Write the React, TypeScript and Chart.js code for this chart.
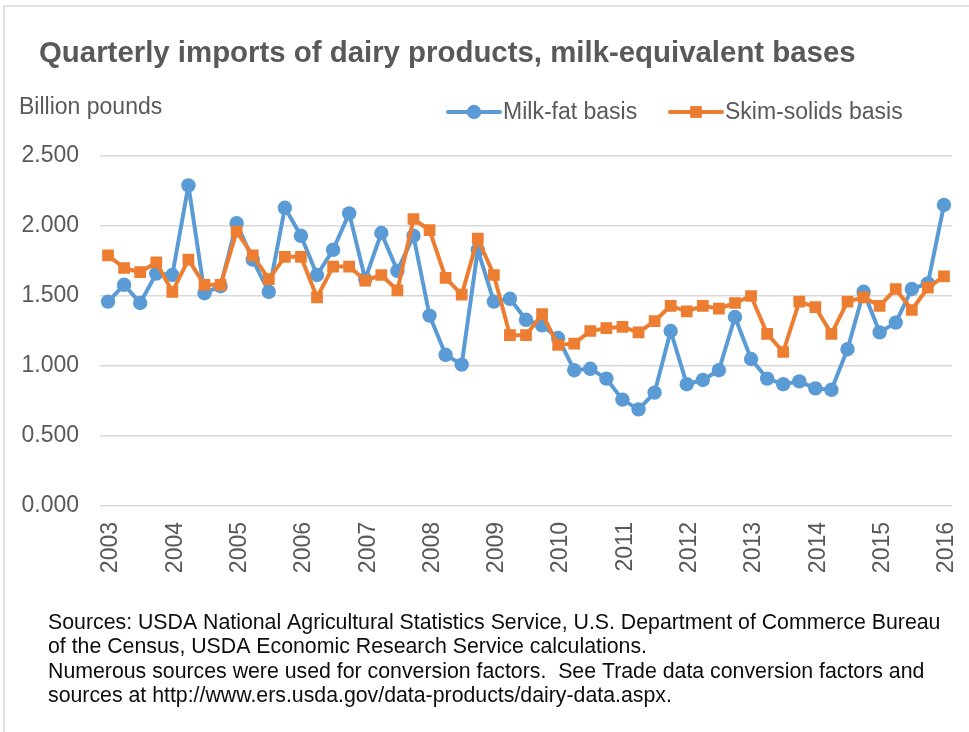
import React, { useEffect, useRef } from 'react';
import { Chart, registerables } from 'chart.js';

Chart.register(...registerables);

// Year tick labels along the bottom axis (one per Q1)
const years = [
  '2003', '2004', '2005', '2006', '2007', '2008', '2009',
  '2010', '2011', '2012', '2013', '2014', '2015', '2016',
];

// Quarterly imports, billion pounds, 2003 Q1 .. 2016 Q1
const milkFatBasis = [
  1.46, 1.58, 1.45, 1.66,
  1.65, 2.29, 1.52, 1.57,
  2.02, 1.76, 1.53, 2.13,
  1.93, 1.65, 1.83, 2.09,
  1.62, 1.95, 1.68, 1.93,
  1.36, 1.08, 1.01, 1.83,
  1.46, 1.48, 1.33, 1.29,
  1.20, 0.97, 0.98, 0.91,
  0.76, 0.69, 0.81, 1.25,
  0.87, 0.90, 0.97, 1.35,
  1.05, 0.91, 0.87, 0.89,
  0.84, 0.83, 1.12, 1.53,
  1.24, 1.31, 1.55, 1.59,
  2.15,
];

const skimSolidsBasis = [
  1.79, 1.70, 1.67, 1.74,
  1.53, 1.76, 1.58, 1.58,
  1.96, 1.79, 1.62, 1.78,
  1.78, 1.49, 1.71, 1.71,
  1.61, 1.65, 1.54, 2.05,
  1.97, 1.63, 1.51, 1.91,
  1.65, 1.22, 1.22, 1.37,
  1.15, 1.16, 1.25, 1.27,
  1.28, 1.24, 1.32, 1.43,
  1.39, 1.43, 1.41, 1.45,
  1.50, 1.23, 1.10, 1.46,
  1.42, 1.23, 1.46, 1.49,
  1.43, 1.55, 1.40, 1.56,
  1.64,
];

const seriesNames = ['Milk-fat basis', 'Skim-solids basis'];
const seriesColors = ['#5b9bd5', '#ed7d31'];

const titleText = 'Quarterly imports of dairy products, milk-equivalent bases';
const unitLabel = 'Billion pounds';
const sourceLines = [
  'Sources: USDA National Agricultural Statistics Service, U.S. Department of Commerce Bureau',
  'of the Census, USDA Economic Research Service calculations.',
  'Numerous sources were used for conversion factors.  See Trade data conversion factors and',
  'sources at http://www.ers.usda.gov/data-products/dairy-data.aspx.',
];

// One category per quarter: every year has Q1..Q4, the last year only Q1
const quarters: string[] = [];
years.forEach((y, i) => {
  const count = i === years.length - 1 ? 1 : 4;
  for (let q = 1; q <= count; q++) quarters.push(`${y} Q${q}`);
});

const FONT = '"Liberation Sans", Arial, Helvetica, sans-serif';
const GREY = '#595959';

function drawMarker(ctx: CanvasRenderingContext2D, kind: number, x: number, y: number) {
  if (kind === 0) {
    ctx.beginPath();
    ctx.arc(x, y, 7.2, 0, Math.PI * 2);
    ctx.fill();
  } else {
    ctx.fillRect(x - 5.9, y - 5.9, 11.8, 11.8);
  }
}

// Title, unit label, legend, frame and source notes painted on the same canvas
const decorations = {
  id: 'decorations',
  afterDraw(chart: Chart) {
    const ctx = chart.ctx;
    ctx.save();

    ctx.strokeStyle = '#d9d9d9';
    ctx.lineWidth = 1.5;
    ctx.beginPath();
    ctx.moveTo(4, 2000);
    ctx.lineTo(4, 6);
    ctx.lineTo(2000, 6);
    ctx.stroke();

    ctx.textAlign = 'left';
    ctx.textBaseline = 'alphabetic';
    ctx.fillStyle = GREY;
    ctx.font = `bold 29.4px ${FONT}`;
    ctx.fillText(titleText, 39, 62);

    ctx.font = `23px ${FONT}`;
    ctx.fillText(unitLabel, 19, 114);

    // legend: short line with the series marker, then its name
    const legendX = [448, 670];
    chart.data.datasets.forEach((ds, i) => {
      const x0 = legendX[i];
      const yc = 112;
      ctx.strokeStyle = seriesColors[i];
      ctx.fillStyle = seriesColors[i];
      ctx.lineWidth = 4;
      ctx.lineCap = 'round';
      ctx.beginPath();
      ctx.moveTo(x0, yc);
      ctx.lineTo(x0 + 52, yc);
      ctx.stroke();
      drawMarker(ctx, i, x0 + 26, yc);
      ctx.fillStyle = GREY;
      ctx.font = `23px ${FONT}`;
      ctx.fillText(String(ds.label), x0 + 55, 119);
    });

    ctx.fillStyle = '#0d0d0d';
    ctx.font = `21.3px ${FONT}`;
    sourceLines.forEach((line, i) => {
      ctx.fillText(line, 48, 629 + i * 24.4);
    });

    ctx.restore();
  },
};

export default function App() {
  const canvasRef = useRef<HTMLCanvasElement | null>(null);

  useEffect(() => {
    const canvas = canvasRef.current;
    if (!canvas) return;

    const chart = new Chart(canvas, {
      type: 'line',
      data: {
        labels: quarters,
        datasets: [
          {
            label: seriesNames[0],
            data: milkFatBasis,
            borderColor: seriesColors[0],
            backgroundColor: seriesColors[0],
            borderWidth: 4,
            borderJoinStyle: 'round',
            borderCapStyle: 'round',
            pointStyle: 'circle',
            pointRadius: 7.2,
            pointBorderWidth: 0,
            pointBackgroundColor: seriesColors[0],
            tension: 0,
            order: 2,
          },
          {
            label: seriesNames[1],
            data: skimSolidsBasis,
            borderColor: seriesColors[1],
            backgroundColor: seriesColors[1],
            borderWidth: 4,
            borderJoinStyle: 'round',
            borderCapStyle: 'round',
            pointStyle: 'rect',
            pointRadius: 8.3,
            pointBorderWidth: 0,
            pointBackgroundColor: seriesColors[1],
            tension: 0,
            order: 1,
          },
        ],
      },
      options: {
        responsive: false,
        animation: false,
        events: [],
        layout: { padding: { left: 0, top: 156, right: 17, bottom: 146 } },
        plugins: {
          legend: { display: false },
          title: { display: false },
          tooltip: { enabled: false },
        },
        scales: {
          x: {
            type: 'category',
            offset: true,
            grid: { display: false, drawTicks: false },
            border: { display: false },
            ticks: {
              autoSkip: false,
              minRotation: 90,
              maxRotation: 90,
              padding: 16,
              labelOffset: 3,
              color: GREY,
              font: { family: FONT, size: 23 },
              callback: (_v: any, i: number) => (i % 4 === 0 ? years[i / 4] : ''),
            },
            afterFit: (scale: any) => {
              scale.height = 80;
              scale.paddingLeft = 0;
              scale.paddingRight = 0;
            },
          },
          y: {
            min: 0,
            max: 2.5,
            grid: { color: '#d9d9d9', lineWidth: 1.5, drawTicks: false },
            border: { display: false },
            ticks: {
              stepSize: 0.5,
              padding: 21,
              color: GREY,
              font: { family: FONT, size: 23 },
              callback: (v: any) => Number(v).toFixed(3),
            },
            afterFit: (scale: any) => {
              scale.width = 100;
              scale.paddingTop = 0;
              scale.paddingBottom = 0;
            },
          },
        },
      },
      plugins: [decorations],
    });

    return () => chart.destroy();
  }, []);

  return (
    <div style={{ position: 'absolute', left: 0, top: 0, width: 969, height: 732, background: '#fff' }}>
      <canvas ref={canvasRef} width={969} height={732} style={{ display: 'block' }} />
    </div>
  );
}
